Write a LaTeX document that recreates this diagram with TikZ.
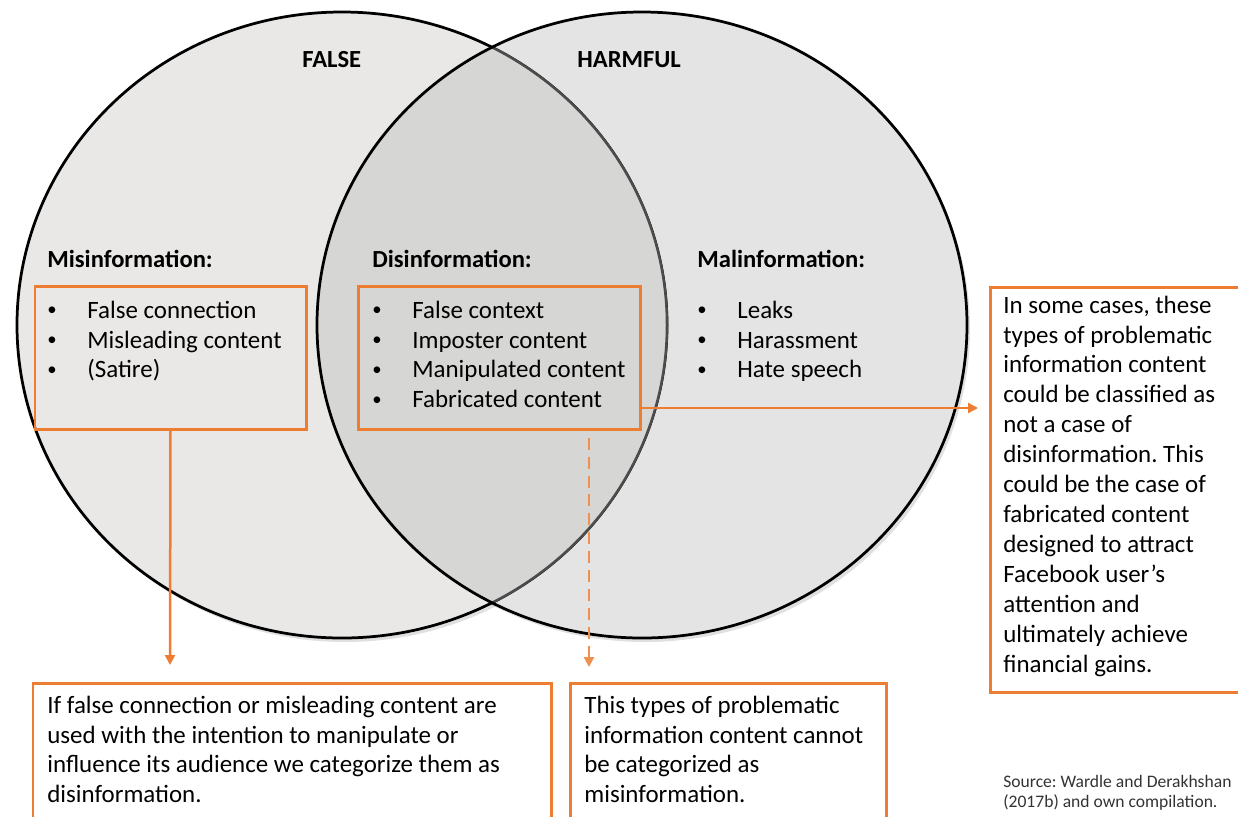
\documentclass[tikz,border=0pt]{standalone}
\usepackage{fontspec}
\usepackage{graphicx}
\setmainfont{Carlito}
\frenchspacing
\usetikzlibrary{arrows.meta,fit}

\tikzset{
  orangebox/.style={draw=accent, line width=0.06cm, inner sep=0pt},
  headtext/.style={anchor=base west, inner sep=0pt, font=\fontsize{14}{17.07}\selectfont\bfseries},
  bodytext/.style={anchor=base west, inner sep=0pt, font=\fontsize{14.2}{17.07}\selectfont},
  link/.style={draw=accent, line width=0.05cm, -{Triangle[length=0.2cm, width=0.2cm]}},
}
\newcommand{\itm}[1]{\makebox[0.8cm][l]{\raisebox{0.25ex}{\scalebox{0.75}{\textbullet}}}#1}
\newcommand{\lines}[1]{\begin{tabular}[t]{@{}l@{}}#1\end{tabular}}

\begin{document}
\begin{tikzpicture}[x=0.02cm, y=-0.02cm]
\definecolor{accent}{HTML}{ED7D31}
\definecolor{leftfill}{HTML}{E9E8E6}
\definecolor{rightfill}{HTML}{E4E4E4}
\definecolor{bothfill}{HTML}{D6D6D5}
\useasboundingbox (0,0) rectangle (1238,816);
\clip (0,0) rectangle (1238,816);

% the two sets
\fill[black, opacity=0.12] (345,329) ellipse [x radius=325, y radius=313];
\fill[black, opacity=0.12] (645,329) ellipse [x radius=325, y radius=313];
\fill[rightfill] (642,325) ellipse [x radius=325, y radius=313];
\filldraw[fill=leftfill, draw=black, line width=0.055cm] (342,325) ellipse [x radius=325, y radius=313];
\begin{scope}
\clip (642,325) ellipse [x radius=325, y radius=313];
\fill[bothfill] (342,325) ellipse [x radius=325, y radius=313];
\draw[black!70, line width=0.05cm] (342,325) ellipse [x radius=325, y radius=313];
\end{scope}
\draw[black, line width=0.055cm] (642,325) ellipse [x radius=325, y radius=313];

\node[headtext] (falsehd) at (302,67) {FALSE};
\node[headtext] (harmhd) at (577,67) {HARMFUL};

% categories
\node[headtext] (mishd) at (47,267) {Misinformation:};
\node[headtext] (dishd) at (372,267) {Disinformation:};
\node[headtext] (malhd) at (697,267) {Malinformation:};

\node[orangebox, fit={(35,286) (306,429)}] (misbox) {};
\node[orangebox, fit={(358,286) (640,429)}] (disbox) {};

\node[bodytext] (mislist) at (47,318) {\lines{\itm{False connection}\\\itm{Misleading content}\\\itm{(Satire)}}};
\node[bodytext] (dislist) at (372,318) {\lines{\itm{False context}\\\itm{Imposter content}\\\itm{Manipulated content}\\\itm{Fabricated content}}};
\node[bodytext] (mallist) at (697,318) {\lines{\itm{Leaks}\\\itm{Harassment}\\\itm{Hate speech}}};

% notes
\node[orangebox, fit={(990,287) (1245,692)}] (sidebox) {};
\node[bodytext] (sidetext) at (1003,313) {\lines{In some cases, these\\types of problematic\\information content\\could be classified as\\not a case of\\disinformation. This\\could be the case of\\fabricated content\\designed to attract\\Facebook user’s\\attention and\\ultimately achieve\\financial gains.}};

\node[orangebox, fit={(33,683) (551,825)}] (leftnote) {};
\node[bodytext] (lefttext) at (47,713) {\lines{If false connection or misleading content are\\used with the intention to manipulate or\\influence its audience we categorize them as\\disinformation.}};

\node[orangebox, fit={(570,683) (886,825)}] (midnote) {};
\node[bodytext] (midtext) at (584,713) {\lines{This types of problematic\\information content cannot\\be categorized as\\misinformation.}};

\node[bodytext, font=\fontsize{10}{11.6}\selectfont, text=black!80] (source) at (1003,787) {\lines{Source: Wardle and Derakhshan\\(2017b) and own compilation.}};

% arrows
\coordinate (misend) at (170,665);
\coordinate (sideend) at (978,408);
\coordinate (dashend) at (589,667);
\draw[link] (misbox.south) -- (misend);
\draw[link] (disbox.east |- sideend) -- (sideend);
\draw[link, draw=accent!85, dash pattern=on 0.24cm off 0.14cm] ([yshift=-0.14cm]disbox.south -| dashend) -- (dashend);
\end{tikzpicture}
\end{document}
